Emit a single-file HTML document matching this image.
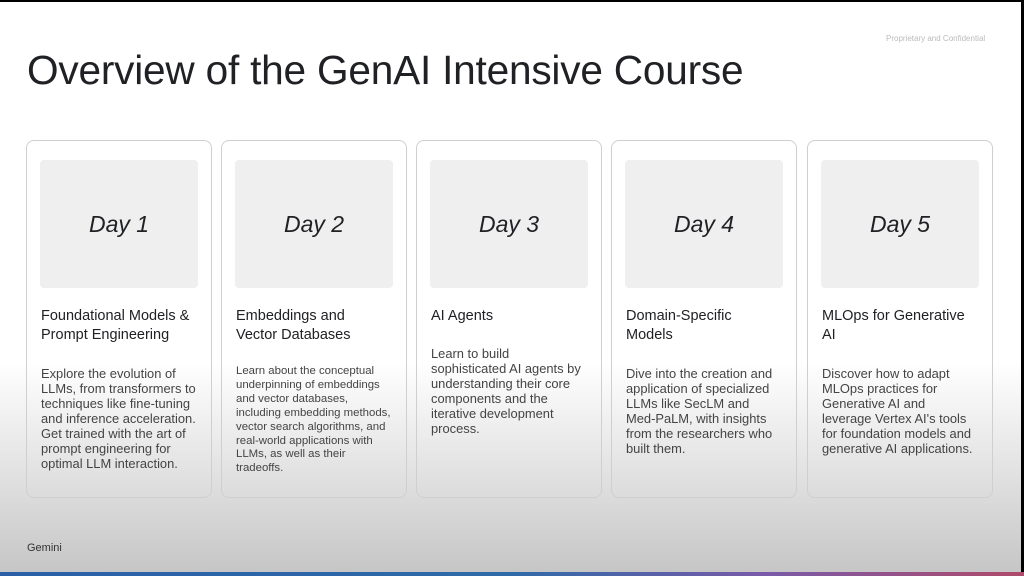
<!DOCTYPE html>
<html><head><meta charset="utf-8"><style>
*{margin:0;padding:0;box-sizing:border-box}
body{width:1024px;height:576px;overflow:hidden;background:#000;font-family:"Liberation Sans",sans-serif;color:#202124}
#slide{position:absolute;left:0;top:2px;width:1021px;height:570px;background:linear-gradient(#fff 0,#fff 360px,#e2e2e2 470px,#c6c6c6 570px)}
#bar{position:absolute;left:0;top:572px;width:1024px;height:4px;background:linear-gradient(90deg,#2a5fa8,#2f6aa8 50%,#7a5aa8 75%,#b04a6a)}
h1{position:absolute;left:27px;top:45px;font-size:40.6px;font-weight:normal;letter-spacing:-0.2px;color:#202124;white-space:nowrap}
.conf{position:absolute;left:886px;top:32px;font-size:8px;color:#bbb}
.card{position:absolute;top:138px;width:186px;height:358px;border:1px solid #cfcfcf;border-radius:8px}
.box{position:absolute;left:13px;top:19px;width:158px;height:128px;background:#efefef;border-radius:4px;display:flex;align-items:center;justify-content:center;font-style:italic;font-size:23px;color:#202124}
.t{position:absolute;left:14px;top:166px;font-size:14.5px;line-height:19px;white-space:nowrap}
.d{position:absolute;left:14px;top:225px;font-size:12.9px;line-height:15px;color:#444;white-space:nowrap}
.foot{position:absolute;left:27px;top:540px;font-size:11px;color:#333}
</style></head><body>
<div id="slide">
<h1>Overview of the GenAI Intensive Course</h1>
<div class="conf">Proprietary and Confidential</div>
<div class="card" style="left:26px"><div class="box">Day 1</div><div class="t">Foundational Models &amp;<br>Prompt Engineering</div><div class="d">Explore the evolution of<br>LLMs, from transformers to<br>techniques like fine-tuning<br>and inference acceleration.<br>Get trained with the art of<br>prompt engineering for<br>optimal LLM interaction.</div></div>
<div class="card" style="left:221px"><div class="box">Day 2</div><div class="t">Embeddings and<br>Vector Databases</div><div class="d" style="font-size:11.4px;line-height:13.9px;top:224px">Learn about the conceptual<br>underpinning of embeddings<br>and vector databases,<br>including embedding methods,<br>vector search algorithms, and<br>real-world applications with<br>LLMs, as well as their<br>tradeoffs.</div></div>
<div class="card" style="left:416px"><div class="box">Day 3</div><div class="t">AI Agents</div><div class="d" style="top:205px">Learn to build<br>sophisticated AI agents by<br>understanding their core<br>components and the<br>iterative development<br>process.</div></div>
<div class="card" style="left:611px"><div class="box">Day 4</div><div class="t">Domain-Specific<br>Models</div><div class="d">Dive into the creation and<br>application of specialized<br>LLMs like SecLM and<br>Med-PaLM, with insights<br>from the researchers who<br>built them.</div></div>
<div class="card" style="left:807px"><div class="box">Day 5</div><div class="t">MLOps for Generative<br>AI</div><div class="d">Discover how to adapt<br>MLOps practices for<br>Generative AI and<br>leverage Vertex AI's tools<br>for foundation models and<br>generative AI applications.</div></div>
<div class="foot">Gemini</div>
</div>
<div id="bar"></div>
</body></html>
